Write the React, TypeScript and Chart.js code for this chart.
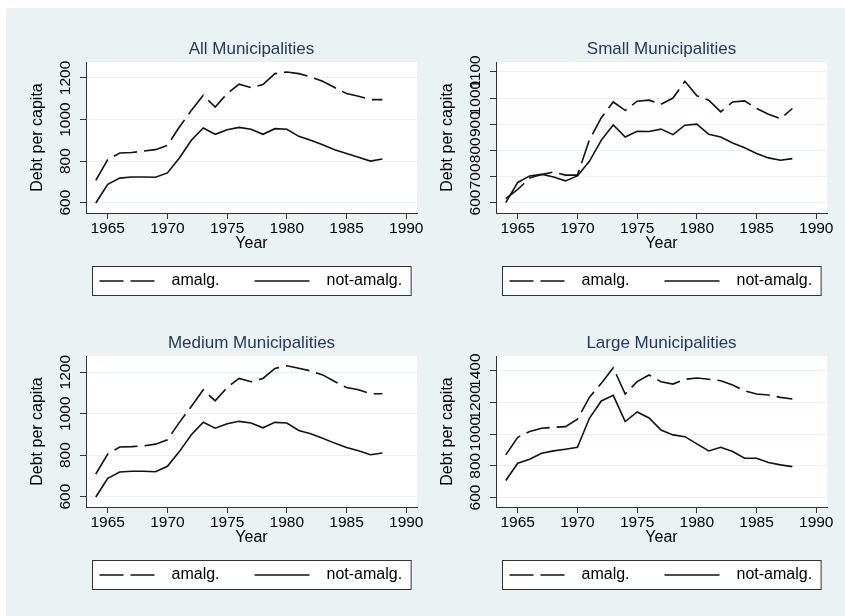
import React, { useEffect, useRef } from 'react';
import { Chart, registerables } from 'chart.js';

Chart.register(...registerables);

const FONT = '"Liberation Sans", Arial, Helvetica, sans-serif';
Chart.defaults.font.family = FONT;

// ---- data ----
const years = [1964, 1965, 1966, 1967, 1968, 1969, 1970, 1971, 1972, 1973, 1974, 1975, 1976,
  1977, 1978, 1979, 1980, 1981, 1982, 1983, 1984, 1985, 1986, 1987, 1988];
const xTicks = [1965, 1970, 1975, 1980, 1985, 1990];
const seriesLabels = ['amalg.', 'not-amalg.'];
const panelTitles = ['All Municipalities', 'Small Municipalities', 'Medium Municipalities', 'Large Municipalities'];

const allAmalg = [707, 807, 839, 841, 848, 855, 876, 964, 1044, 1117, 1060, 1125, 1170,
  1154, 1168, 1221, 1229, 1221, 1205, 1184, 1154, 1125, 1112, 1096, 1096];
const allNotAmalg = [598, 688, 718, 723, 723, 722, 743, 815, 900, 959, 929, 951, 962,
  953, 929, 956, 953, 919, 900, 879, 855, 836, 818, 800, 810];

const smallAmalg = [615, 650, 694, 707, 717, 705, 705, 839, 925, 985, 953, 988, 992,
  976, 1000, 1064, 1009, 992, 947, 985, 989, 960, 938, 921, 960];
const smallNotAmalg = [600, 677, 702, 708, 698, 683, 702, 758, 839, 897, 851, 873, 872,
  881, 860, 896, 900, 861, 851, 828, 810, 788, 771, 762, 768];

const mediumAmalg = [709, 805, 839, 841, 845, 853, 874, 958, 1035, 1115, 1062, 1126, 1170,
  1154, 1170, 1218, 1231, 1219, 1206, 1187, 1155, 1126, 1115, 1096, 1096];
const mediumNotAmalg = [598, 688, 719, 722, 722, 720, 746, 817, 898, 959, 930, 951, 963,
  955, 932, 958, 955, 919, 903, 882, 858, 837, 821, 802, 810];

const largeAmalg = [869, 980, 1016, 1037, 1043, 1047, 1094, 1232, 1321, 1419, 1253, 1331, 1373,
  1331, 1316, 1346, 1354, 1346, 1337, 1310, 1274, 1253, 1247, 1232, 1222];
const largeNotAmalg = [707, 816, 842, 879, 894, 905, 917, 1100, 1209, 1245, 1079, 1140, 1102,
  1026, 995, 984, 938, 894, 917, 890, 848, 848, 821, 806, 795];

const yTicksAll = [600, 800, 1000, 1200];
const yTicksSmall = [600, 700, 800, 900, 1000, 1100];
const yTicksMedium = [600, 800, 1000, 1200];
const yTicksLarge = [600, 800, 1000, 1200, 1400];

// ---- styles ----
const BG = '#eaf2f3';
const GRID = '#eaf2f3';
const AXIS = '#333333';
const LINE = '#111111';
const TITLE = '#24385e';
const CW = 429;
const CH = 294;

const plotBg = {
  id: 'plotBg',
  beforeDraw(chart: any) {
    const { ctx, chartArea: a } = chart;
    ctx.save();
    ctx.fillStyle = '#ffffff';
    ctx.fillRect(a.left, a.top, a.right - a.left, a.bottom - a.top);
    ctx.restore();
  },
};

const yTickLabels = {
  id: 'yTickLabels',
  afterDraw(chart: any) {
    const s = chart.scales.y;
    const ctx = chart.ctx;
    ctx.save();
    ctx.font = `15.5px ${FONT}`;
    ctx.fillStyle = '#000000';
    ctx.textAlign = 'center';
    ctx.textBaseline = 'middle';
    const x = chart.chartArea.left - 20;
    s.ticks.forEach((t: any) => {
      const y = s.getPixelForValue(t.value);
      ctx.save();
      ctx.translate(x, y);
      ctx.rotate(-Math.PI / 2);
      ctx.fillText(String(t.value), 0, 0);
      ctx.restore();
    });
    ctx.restore();
  },
};

const boxLegend = {
  id: 'boxLegend',
  afterDraw(chart: any) {
    const { ctx, chartArea: a } = chart;
    ctx.save();
    ctx.font = `16px ${FONT}`;
    const ds = chart.data.datasets;
    const padL = 7, sample = 55, gapST = 17, gapItem = 35, padR = 9;
    const widths = ds.map((d: any) => ctx.measureText(d.label).width);
    let total = padL + padR;
    widths.forEach((w: number, i: number) => {
      total += sample + gapST + w + (i < widths.length - 1 ? gapItem : 0);
    });
    const cx = (a.left + a.right) / 2;
    const left = Math.round(cx - total / 2) + 0.5;
    const top = a.bottom + 53.5;
    const h = 29;
    ctx.fillStyle = '#ffffff';
    ctx.fillRect(left, top, total, h);
    ctx.strokeStyle = AXIS;
    ctx.lineWidth = 1;
    ctx.strokeRect(left, top, total, h);
    const cy = top + h / 2;
    let x = left + padL;
    ds.forEach((d: any, i: number) => {
      ctx.save();
      ctx.strokeStyle = d.borderColor;
      ctx.lineWidth = d.borderWidth;
      ctx.setLineDash(d.borderDash || []);
      ctx.beginPath();
      ctx.moveTo(x, cy);
      ctx.lineTo(x + sample, cy);
      ctx.stroke();
      ctx.restore();
      x += sample + gapST;
      ctx.fillStyle = '#000000';
      ctx.textAlign = 'left';
      ctx.textBaseline = 'middle';
      ctx.fillText(d.label, x, cy);
      x += widths[i] + gapItem;
    });
    ctx.restore();
  },
};

type PanelProps = {
  title: string;
  amalg: number[];
  notAmalg: number[];
  yTicks: number[];
  yMin: number;
  yMax: number;
  left: number;
  top: number;
};

function Panel({ title, amalg, notAmalg, yTicks, yMin, yMax, left, top }: PanelProps) {
  const ref = useRef<HTMLCanvasElement>(null);
  useEffect(() => {
    const chart = new Chart(ref.current as HTMLCanvasElement, {
      type: 'line',
      data: {
        datasets: [
          {
            label: seriesLabels[0],
            data: years.map((x, i) => ({ x, y: amalg[i] })),
            borderColor: LINE,
            borderWidth: 1.6,
            borderDash: [24, 7],
            pointRadius: 0,
            fill: false,
            tension: 0,
          },
          {
            label: seriesLabels[1],
            data: years.map((x, i) => ({ x, y: notAmalg[i] })),
            borderColor: LINE,
            borderWidth: 1.6,
            borderDash: [],
            pointRadius: 0,
            fill: false,
            tension: 0,
          },
        ],
      },
      options: {
        animation: false,
        responsive: false,
        maintainAspectRatio: false,
        events: [],
        layout: { autoPadding: false, padding: { left: 0, right: 18, top: 0, bottom: 44 } },
        plugins: {
          legend: { display: false },
          tooltip: { enabled: false },
          title: {
            display: true,
            text: title,
            fullSize: false,
            color: TITLE,
            font: { size: 17, weight: 'normal' },
            padding: { top: 30.9, bottom: 2.7 },
          },
        },
        scales: {
          x: {
            type: 'linear',
            min: 1963.18,
            max: 1990.9,
            afterBuildTicks: (s: any) => {
              s.ticks = xTicks.map((v) => ({ value: v }));
            },
            afterFit: (s: any) => {
              s.height = 45;
            },
            ticks: {
              color: '#000000',
              font: { size: 15.5 },
              padding: 0,
              maxRotation: 0,
              minRotation: 0,
              autoSkip: false,
              callback: (v: any) => String(v),
            },
            grid: { display: true, drawOnChartArea: false, drawTicks: true, tickLength: 6, tickColor: AXIS },
            border: { display: true, color: AXIS, width: 1 },
            title: {
              display: true,
              text: 'Year',
              color: '#000000',
              font: { size: 16 },
              padding: { top: 0, bottom: 4.4 },
            },
          },
          y: {
            type: 'linear',
            min: yMin,
            max: yMax,
            afterBuildTicks: (s: any) => {
              s.ticks = yTicks.map((v) => ({ value: v }));
            },
            afterFit: (s: any) => {
              s.width = 80;
            },
            ticks: { display: false },
            grid: { display: true, color: GRID, lineWidth: 1, drawTicks: true, tickLength: 6, tickColor: AXIS },
            border: { display: true, color: AXIS, width: 1 },
            title: {
              display: true,
              text: 'Debt per capita',
              color: '#000000',
              font: { size: 16 },
              padding: { top: 22, bottom: 0 },
            },
          },
        },
      } as any,
      plugins: [plotBg, yTickLabels, boxLegend],
    });
    return () => chart.destroy();
  }, []);
  return (
    <canvas
      ref={ref}
      width={CW}
      height={CH}
      style={{ position: 'absolute', left, top, width: CW, height: CH }}
    />
  );
}

export default function App() {
  return (
    <div
      style={{
        position: 'absolute',
        left: 6,
        top: 8,
        width: 839,
        height: 608,
        background: BG,
        overflow: 'hidden',
      }}
    >
      <Panel title={panelTitles[0]} amalg={allAmalg} notAmalg={allNotAmalg} yTicks={yTicksAll} yMin={550} yMax={1277} left={0} top={0} />
      <Panel title={panelTitles[1]} amalg={smallAmalg} notAmalg={smallNotAmalg} yTicks={yTicksSmall} yMin={560} yMax={1138} left={410} top={0} />
      <Panel title={panelTitles[2]} amalg={mediumAmalg} notAmalg={mediumNotAmalg} yTicks={yTicksMedium} yMin={550} yMax={1278} left={0} top={294} />
      <Panel title={panelTitles[3]} amalg={largeAmalg} notAmalg={largeNotAmalg} yTicks={yTicksLarge} yMin={540} yMax={1493} left={410} top={294} />
    </div>
  );
}
